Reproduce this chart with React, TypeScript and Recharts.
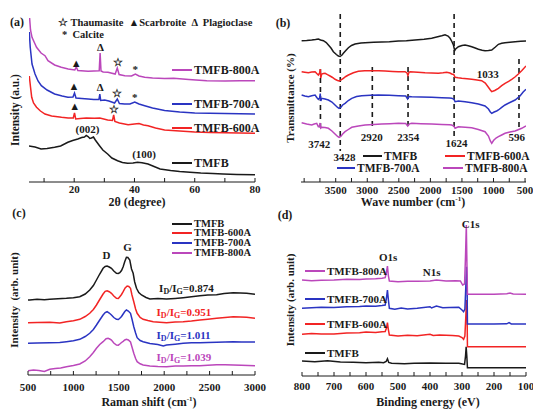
import React from 'react';
import { LineChart, Line, XAxis, YAxis, ReferenceLine, ReferenceDot } from 'recharts';

const FONT = '"Liberation Serif", "Times New Roman", serif';
const INK = '#1a1a1a';
const RED = '#f22424';
const BLUE = '#2a34c2';
const PURPLE = '#bb47bb';

type Pt = [number, number];

// (a) XRD, 2theta vs intensity (a.u.)
const xrdTmfb: Pt[] = [[5, 36], [7, 35], [9, 33], [11, 33.5], [13.5, 34.7], [15.5, 36], [17.9, 39.7], [19.5, 41.5], [21.2, 43], [22.5, 44.5], [23.4, 45], [24, 46.5], [24.6, 45.5], [25.2, 43.5], [25.7, 44], [26.4, 45], [27, 42], [28.4, 36.3], [29.5, 32], [31.1, 28], [32.5, 24], [34.4, 21.3], [36, 19.5], [37.7, 18.7], [39.5, 19], [41, 19.7], [42.5, 19.3], [44.5, 18], [46.5, 15.5], [48.5, 13], [52, 11.5], [55, 10.5], [58.4, 9.7], [62, 9], [66, 8.5], [69.4, 8], [74, 7.6], [80, 7.3]];
const xrd600: Pt[] = [[5.1, 106], [5.5, 95], [5.9, 84.7], [6.5, 79], [7.5, 74.7], [8.8, 71], [10.3, 68], [12.5, 66], [15.8, 64.7], [18, 64], [19.7, 64], [20.1, 69], [20.5, 63], [22, 63.5], [24, 64], [26.7, 63.7], [28.5, 64], [31.1, 62], [32.7, 61.5], [33.1, 67], [33.5, 60.5], [35, 59], [37.9, 57.3], [40, 58], [41.5, 58.5], [43, 57], [44.5, 56.3], [47, 54], [50, 52], [55, 51], [60, 50], [65, 49.5], [70, 49.2], [75, 49], [80, 48.7]];
const xrd700: Pt[] = [[5.1, 150], [5.4, 135], [6, 118], [7, 108], [8, 101], [9.1, 96.3], [11, 92], [13.5, 88], [16, 86], [17.9, 84.7], [19.6, 85], [20.1, 89], [20.6, 84], [22.5, 83.5], [24.6, 83], [26.5, 82.5], [28.2, 82.5], [28.5, 88], [28.8, 81.5], [30.1, 82], [31.5, 81], [33.4, 79], [34.3, 83], [35, 78.5], [36.7, 78], [38.5, 78], [40.1, 80], [41.5, 78], [43.4, 76.3], [46, 74], [50, 71.5], [55, 70], [60, 69], [65, 68.7], [70, 68.5], [75, 68.2], [80, 68]];
const xrd800: Pt[] = [[5.2, 164], [5.5, 152], [6, 144.7], [7, 138], [7.5, 134.7], [9, 129], [10.3, 126.3], [11.3, 121.3], [13.5, 117], [15.7, 114.7], [18, 113], [20.2, 112], [20.7, 115], [21.2, 111.5], [24.6, 110.7], [28.3, 111.3], [28.6, 129], [28.9, 111], [29.6, 110], [31.2, 109.7], [33.6, 108], [34.3, 114], [34.9, 107.5], [36.8, 106.3], [39, 106], [40.3, 108], [41.5, 106], [43.4, 104.7], [46, 104], [50, 103.5], [53, 103.7], [58, 102.5], [64, 101.3], [70, 101], [75, 101.2], [80, 101.3]];
const xrdTicks = [10, 20, 30, 40, 50, 60, 70, 80];
const xrdMajor = [20, 40, 60, 80];
const xrdMarks: [number, number, string, string][] = [
  [20.7, 119, '▲', INK], [28.7, 135, 'Δ', INK], [34.4, 120, '☆', INK], [40.3, 113, '*', INK],
  [19.9, 96, '▲', INK], [28.6, 95, 'Δ', INK], [34.3, 89, '☆', INK], [40.1, 85, '*', INK],
  [20.2, 76, '▲', INK], [33.2, 73, '☆', INK],
  [24.4, 52.7, '(002)', INK], [43.2, 28, '(100)', INK],
];

// (b) FTIR, wave number vs transmittance
const irTmfb: Pt[] = [[4040, 141.3], [3960, 141.5], [3880, 142], [3820, 142.5], [3775, 143], [3740, 142], [3695, 141.3], [3650, 139.5], [3616, 137], [3575, 134], [3537, 130.3], [3490, 127.5], [3458, 126], [3431, 125.5], [3400, 127], [3379, 128.7], [3340, 131.5], [3299, 134.3], [3250, 136.5], [3194, 138], [3100, 139], [3035, 139.3], [2900, 139.7], [2771, 140], [2650, 140.3], [2507, 141], [2380, 141.3], [2244, 142], [2100, 142.8], [1979, 143.7], [1900, 145], [1820, 146.3], [1768, 147.3], [1720, 146], [1688, 143.7], [1660, 140.5], [1635, 137], [1615, 131.5], [1600, 133], [1556, 135.3], [1500, 136.5], [1451, 137], [1400, 136.3], [1345, 135.3], [1290, 134], [1239, 132.7], [1180, 131.7], [1134, 131.3], [1080, 131.5], [1028, 132], [970, 135], [922, 137.7], [870, 138.7], [817, 139.3], [740, 139.8], [658, 140.3], [570, 140.7], [485, 141]];
const ir600: Pt[] = [[4040, 110.3], [3990, 109.8], [3933, 109.3], [3880, 110], [3827, 110.3], [3800, 108.5], [3775, 107], [3755, 109], [3745, 113], [3737, 104], [3722, 108], [3695, 108.5], [3669, 108.7], [3630, 107.3], [3590, 106], [3550, 104.5], [3511, 102.7], [3470, 101.5], [3447, 101], [3420, 101.8], [3379, 103.7], [3340, 105.5], [3299, 107], [3220, 109.3], [3141, 110.7], [3040, 111.2], [2930, 111.3], [2820, 111.2], [2718, 111], [2600, 110.6], [2507, 110.3], [2401, 110.3], [2370, 109], [2356, 106.5], [2340, 109.5], [2322, 110.3], [2200, 109.8], [2084, 109.3], [1980, 109], [1873, 108.7], [1800, 109.2], [1741, 109.7], [1690, 109], [1662, 108], [1630, 107.5], [1609, 104.7], [1560, 104.2], [1503, 103.7], [1420, 103.2], [1345, 102.7], [1260, 102], [1187, 101.3], [1130, 99], [1081, 94.7], [1050, 92], [1028, 90.3], [980, 91.5], [922, 93.7], [870, 96.3], [817, 98.7], [760, 100.7], [711, 102.7], [660, 105], [606, 108], [550, 111.5], [485, 116]];
const ir700: Pt[] = [[4040, 87], [3990, 86], [3933, 85.3], [3880, 86.3], [3827, 87], [3800, 84.5], [3775, 82.7], [3755, 84], [3745, 88.5], [3737, 81], [3722, 83.7], [3670, 83], [3616, 82], [3560, 80], [3511, 77], [3470, 74.5], [3447, 73.7], [3420, 74.5], [3390, 77], [3352, 78.7], [3300, 81.5], [3246, 83.7], [3170, 85.5], [3088, 86.3], [2950, 86.8], [2824, 87], [2650, 86.8], [2507, 86.3], [2390, 86], [2360, 83], [2340, 85.5], [2296, 85.3], [2150, 85], [1979, 84.7], [1820, 84.3], [1700, 84], [1662, 83.7], [1630, 83], [1609, 80.3], [1556, 81], [1450, 80.3], [1345, 79.3], [1240, 78], [1134, 76], [1080, 73], [1050, 70], [1028, 68.7], [990, 70], [950, 71], [922, 72], [870, 74.7], [817, 77], [740, 79.5], [658, 82], [580, 86], [530, 90], [485, 92.7]];
const ir800: Pt[] = [[4040, 59.3], [3960, 58], [3880, 57], [3840, 58], [3801, 58.7], [3775, 55.3], [3755, 56], [3745, 59], [3737, 54], [3722, 54.7], [3670, 54.5], [3616, 53.7], [3560, 51], [3511, 48], [3470, 45.5], [3447, 44.7], [3420, 45.5], [3390, 48], [3352, 50.3], [3300, 52.5], [3246, 54.7], [3140, 56], [3035, 57], [2900, 57.5], [2771, 58], [2640, 58.3], [2507, 58.7], [2390, 58.5], [2359, 56], [2330, 58.2], [2296, 58.7], [2150, 58.3], [1979, 58], [1820, 57.5], [1700, 57.2], [1662, 57], [1630, 56], [1609, 53.7], [1556, 55.3], [1450, 54.8], [1345, 54.3], [1240, 52.5], [1134, 50.3], [1080, 46], [1050, 41], [1028, 38.7], [1000, 41.5], [960, 44], [922, 45.3], [870, 47], [817, 48.7], [740, 50], [658, 51], [600, 52.5], [553, 53.7], [485, 56]];
const irTicks = [4000, 3750, 3500, 3250, 3000, 2750, 2500, 2250, 2000, 1750, 1500, 1250, 1000, 750, 500];
const irMajor = [3500, 3000, 2500, 2000, 1500, 1000, 500];
// band position, dashed line from / to
const irBands: [number, number, number][] = [[3742, 113, 50], [3428, 168, 31], [2920, 115, 53], [2354, 115, 53], [1624, 168, 46], [596, 123, 51]];
const irLabels: [number, number, string][] = [[3760, 38, '3742'], [3360, 25, '3428'], [2930, 45, '2920'], [2350, 45, '2354'], [1585, 39, '1624'], [632, 45, '596'], [1090, 108, '1033']];

// (c) Raman
const ramanTmfb: Pt[] = [[500, 75], [520, 75], [600, 75.8], [680, 75.2], [740, 75.7], [830, 76.2], [923, 76.7], [1000, 77.3], [1070, 78.3], [1130, 81], [1180, 85], [1220, 89.5], [1254, 95], [1290, 101], [1327, 106.7], [1350, 108.5], [1371, 109], [1395, 108], [1419, 106.7], [1445, 104], [1474, 101.7], [1495, 101.5], [1511, 102.3], [1530, 104.5], [1548, 108.3], [1566, 113.5], [1584, 117.7], [1600, 117.5], [1621, 115], [1640, 106], [1658, 101.7], [1675, 93], [1695, 86.7], [1720, 82.5], [1750, 80], [1800, 77.5], [1842, 76], [1930, 76.5], [2026, 76], [2120, 76.6], [2209, 77.3], [2300, 78.2], [2393, 79.3], [2480, 80], [2577, 80.3], [2660, 81.5], [2761, 82.3], [2840, 82], [2908, 81.7], [3000, 80.7]];
const raman600: Pt[] = [[500, 52.3], [600, 52.5], [740, 52.7], [850, 52], [923, 53.3], [1000, 54.3], [1070, 55.7], [1130, 58.5], [1180, 61.7], [1220, 65.5], [1254, 70], [1290, 75.5], [1327, 81], [1350, 83.7], [1371, 84.3], [1395, 83.3], [1419, 81.7], [1445, 79], [1474, 76.7], [1495, 76.5], [1511, 78.3], [1530, 80.5], [1548, 83.3], [1570, 87], [1592, 89], [1610, 88.5], [1629, 86.7], [1645, 80], [1665, 73.3], [1685, 66], [1702, 61.7], [1735, 57.5], [1768, 55.7], [1820, 54.5], [1879, 53.3], [1950, 52.8], [2026, 52.3], [2120, 53], [2209, 53.3], [2300, 54], [2393, 55], [2480, 55.8], [2577, 56.7], [2670, 57.5], [2761, 58.3], [2840, 58], [2908, 57.7], [3000, 56.7]];
const raman700: Pt[] = [[500, 31.7], [600, 32], [740, 32.3], [850, 32.5], [923, 33.3], [1000, 34.3], [1070, 35.7], [1130, 38.5], [1180, 41.7], [1220, 45.5], [1254, 50], [1290, 55], [1327, 60], [1350, 62.5], [1371, 63.3], [1395, 62], [1419, 60], [1445, 57.5], [1474, 55.7], [1495, 55.5], [1511, 56.7], [1530, 58.5], [1548, 61], [1566, 63.5], [1584, 65], [1605, 64], [1629, 61.7], [1645, 56], [1665, 48.3], [1685, 42], [1702, 37.3], [1735, 34.5], [1768, 33.3], [1842, 31.5], [1930, 30.5], [1990, 29], [2026, 30], [2120, 30.8], [2209, 31.7], [2300, 32.3], [2393, 32.3], [2480, 32.5], [2577, 32.7], [2670, 33], [2761, 33.3], [2850, 33], [3000, 33]];
const raman800: Pt[] = [[500, 4.3], [560, 5], [620, 4.5], [680, 3.5], [740, 5.7], [800, 6.5], [860, 7], [923, 8.3], [1000, 9.5], [1070, 11], [1130, 14], [1180, 18.3], [1220, 22.5], [1254, 26.7], [1290, 30.5], [1327, 33.3], [1360, 36.2], [1382, 36.7], [1400, 36], [1419, 35], [1445, 32], [1474, 30], [1495, 29.8], [1511, 31], [1530, 32.5], [1548, 33.7], [1566, 35], [1584, 35.7], [1605, 35], [1629, 33], [1645, 28], [1665, 21.7], [1685, 16.5], [1702, 13.3], [1735, 11.2], [1768, 10], [1842, 9], [1930, 8.5], [2026, 8.3], [2120, 9], [2209, 9], [2300, 9.3], [2393, 9.3], [2480, 9.7], [2577, 10.3], [2670, 10.3], [2761, 10], [2850, 9.7], [3000, 9.3]];
const ramanTicks = [500, 750, 1000, 1250, 1500, 1750, 2000, 2250, 2500, 2750, 3000];
const ramanMajor = [500, 1000, 1500, 2000, 2500, 3000];
const ratioLabels: [number, number, string, string][] = [[1944, 86.7, '0.874', INK], [1916, 63.3, '0.951', RED], [1916, 40, '1.011', BLUE], [1916, 18.3, '1.039', PURPLE]];

// (d) XPS survey
const xpsTmfb: Pt[] = [[800, 15], [760, 14.3], [720, 15.3], [680, 14], [640, 13.7], [600, 13.3], [560, 13.7], [545, 13.3], [537, 14.5], [533, 17.3], [529, 13.5], [520, 12.7], [480, 12.3], [450, 12.7], [400, 13], [350, 12.7], [310, 12.7], [298, 12], [292, 11.7], [289, 20], [287, 29.3], [285, 20], [283, 8.3], [250, 8.3], [200, 8.3], [150, 8.3], [100, 8.3]];
const xps600: Pt[] = [[800, 41.7], [770, 42.5], [740, 42], [700, 42], [660, 43], [620, 43.3], [600, 44], [570, 43.5], [550, 44.3], [540, 44.5], [536, 48], [533, 53.3], [530, 46], [527, 41], [500, 40], [470, 40.7], [440, 40.3], [400, 41.7], [390, 40.5], [370, 41], [350, 40.7], [330, 40.5], [310, 40], [300, 38.5], [295, 36.7], [291, 40], [288, 60], [286, 76], [284, 60], [283, 29.3], [250, 29.3], [200, 29.3], [150, 29.3], [100, 29.3]];
const xps700: Pt[] = [[800, 67.7], [770, 68.3], [740, 68.7], [700, 68.5], [660, 69.3], [620, 69.5], [600, 70], [570, 69.7], [550, 70.5], [540, 71], [536, 78], [533, 86], [530, 76], [527, 67.7], [510, 66.7], [490, 68], [470, 67], [440, 67.7], [400, 69.3], [395, 68], [380, 70], [360, 68.3], [340, 68.5], [310, 68.7], [300, 66], [295, 64.3], [291, 67], [288, 90], [286, 109.3], [284, 90], [283, 52], [200, 52], [160, 52.2], [153, 53.3], [146, 52], [100, 52]];
const xps800: Pt[] = [[800, 96], [770, 95.3], [740, 95.7], [700, 96], [660, 96.7], [620, 96.5], [600, 97], [570, 97.3], [550, 97.7], [540, 98.3], [536, 104], [533, 110], [530, 100], [527, 95], [500, 94.3], [470, 94.7], [440, 94.7], [400, 95], [380, 96], [350, 95], [320, 95.3], [305, 95], [298, 91], [292, 92], [289, 120], [286.5, 151], [285, 120], [283, 81.7], [200, 81.7], [160, 82.2], [150, 83], [140, 82], [100, 81.7]];
const xpsTicks = [800, 750, 700, 650, 600, 550, 500, 450, 400, 350, 300, 250, 200, 150, 100];
const xpsMajor = [800, 700, 600, 500, 400, 300, 200, 100];
const xpsLabels: [number, number, string][] = [[531, 118.7, 'O1s'], [395, 104.3, 'N1s'], [273, 151.7, 'C1s']];

type Series = { color: string; pts: Pt[] };
type Note = { x: number; y: number; text: React.ReactNode; color?: string; anchor?: 'start' | 'middle' | 'end' };

const rows = (pts: Pt[]) => pts.map(([x, y]) => ({ x, y }));

const PAD = 18;
const TOP = 4;
const AXIS_H = 28;

function Panel(props: {
  box: [number, number, number, number];
  xDomain: [number, number];
  reversed?: boolean;
  ticks: number[];
  major: number[];
  yMax: number;
  gap: number;
  series: Series[];
  notes?: Note[];
  dashes?: [number, number, number][];
}) {
  const { box, xDomain, reversed, ticks, major, yMax, gap, series, notes = [], dashes = [] } = props;
  const [l, t, r, b] = box;
  return (
    <div style={{ position: 'absolute', left: l - PAD, top: t - TOP }}>
      <LineChart width={r - l + 2 * PAD} height={b - t + TOP + AXIS_H} margin={{ top: TOP, right: PAD, bottom: 0, left: PAD }}>
        <XAxis
          dataKey="x" type="number" domain={xDomain} reversed={reversed} ticks={ticks} interval={0}
          allowDataOverflow height={AXIS_H} tickSize={-4} tickMargin={gap} stroke={INK}
          tickFormatter={(v: number) => (major.includes(v) ? String(v) : '')}
          tick={{ fill: INK, fontSize: 11, fontWeight: 700, fontFamily: FONT }}
        />
        <XAxis xAxisId="top" orientation="top" type="number" domain={xDomain} reversed={reversed} height={0} tick={false} tickLine={false} stroke={INK} />
        <YAxis type="number" domain={[0, yMax]} width={0} tick={false} tickLine={false} stroke={INK} allowDataOverflow />
        <YAxis yAxisId="right" orientation="right" type="number" domain={[0, yMax]} width={0} tick={false} tickLine={false} stroke={INK} />
        {dashes.map(([x, y1, y2], i) => (
          <ReferenceLine key={'d' + i} segment={[{ x, y: y1 }, { x, y: y2 }]} stroke={INK} strokeWidth={1.6} strokeDasharray="5 4" />
        ))}
        {series.map((s, i) => (
          <Line key={i} data={rows(s.pts)} dataKey="y" type="linear" stroke={s.color} strokeWidth={1.5} dot={false} activeDot={false} isAnimationActive={false} />
        ))}
        {notes.map((n, i) => (
          <ReferenceDot
            key={'n' + i} x={n.x} y={n.y} r={0}
            shape={(p: any) => (
              <text x={p.cx} y={p.cy} textAnchor={n.anchor ?? 'middle'} dominantBaseline="central" fill={n.color ?? INK} fontSize={11} fontWeight={700} fontFamily={FONT}>
                {n.text}
              </text>
            )}
          />
        ))}
      </LineChart>
    </div>
  );
}

function Txt(props: { x: number; y: number; children: React.ReactNode; align?: 'left' | 'center'; rotate?: boolean; size?: number }) {
  const { x, y, children, align = 'center', rotate = false, size = 12 } = props;
  const transform = rotate ? 'translate(-50%,-50%) rotate(-90deg)' : align === 'left' ? 'translate(0,-50%)' : 'translate(-50%,-50%)';
  return (
    <div style={{ position: 'absolute', left: x, top: y, transform, whiteSpace: 'pre', fontSize: size, fontWeight: 700, fontFamily: FONT, color: INK, lineHeight: 0.75 }}>
      {children}
    </div>
  );
}

function Key(props: { x1: number; x2: number; y: number; color: string; label: string; size?: number }) {
  const { x1, x2, y, color, label, size = 12 } = props;
  return (
    <>
      <div style={{ position: 'absolute', left: x1, top: y - 1, width: x2 - x1, height: 2, background: color }} />
      <Txt x={x2 + 2} y={y} align="left" size={size}>{label}</Txt>
    </>
  );
}

const ratio = (v: string) => (
  <>
    <tspan>I</tspan>
    <tspan dy={3} fontSize={8}>D</tspan>
    <tspan dy={-3}>/I</tspan>
    <tspan dy={3} fontSize={8}>G</tspan>
    <tspan dy={-3}>{'=' + v}</tspan>
  </>
);

export default function App() {
  return (
    <div style={{ position: 'absolute', left: 0, top: 0, width: 533, height: 411, background: '#fff', fontFamily: FONT, overflow: 'hidden' }}>
      {/* (a) XRD */}
      <Panel
        box={[29, 14, 255, 182]} xDomain={[5, 80]} ticks={xrdTicks} major={xrdMajor} yMax={168} gap={7}
        series={[{ color: INK, pts: xrdTmfb }, { color: RED, pts: xrd600 }, { color: BLUE, pts: xrd700 }, { color: PURPLE, pts: xrd800 }]}
        notes={xrdMarks.map(([x, y, text, color]) => ({ x, y, text, color }))}
      />
      <Txt x={17} y={22}>(a)</Txt>
      <Txt x={58} y={23} align="left" size={10.5}>{'☆ Thaumasite  ▲Scarbroite  Δ  Plagioclase'}</Txt>
      <Txt x={62} y={35} align="left" size={10.5}>{'*  Calcite'}</Txt>
      <Key x1={172} x2={192} y={70} color={PURPLE} label="TMFB-800A" />
      <Key x1={172} x2={192} y={104} color={BLUE} label="TMFB-700A" />
      <Key x1={172} x2={192} y={127.5} color={RED} label="TMFB-600A" />
      <Key x1={172} x2={192} y={163} color={INK} label="TMFB" />
      <Txt x={15} y={110} rotate size={11.5}>Intensity (a.u.)</Txt>
      <Txt x={137} y={202}>2θ (degree)</Txt>

      {/* (b) FTIR */}
      <Panel
        box={[301, 14, 526, 182]} xDomain={[485, 4050]} reversed ticks={irTicks} major={irMajor} yMax={168} gap={8}
        series={[{ color: INK, pts: irTmfb }, { color: RED, pts: ir600 }, { color: BLUE, pts: ir700 }, { color: PURPLE, pts: ir800 }]}
        dashes={irBands}
        notes={irLabels.map(([x, y, text]) => ({ x, y, text }))}
      />
      <Txt x={283} y={23}>(b)</Txt>
      <Key x1={363} x2={382} y={156} color={INK} label="TMFB" size={11.5} />
      <Key x1={445} x2={465} y={156} color={RED} label="TMFB-600A" size={11.5} />
      <Key x1={337} x2={355} y={168} color={BLUE} label="TMFB-700A" size={11.5} />
      <Key x1={443} x2={463} y={168} color={PURPLE} label="TMFB-800A" size={11.5} />
      <Txt x={290} y={98} rotate size={11}>Transmittance (%)</Txt>
      <Txt x={413} y={202}>
        Wave number (cm<sup style={{ fontSize: 7 }}>-1</sup>)
      </Txt>

      {/* (c) Raman */}
      <Panel
        box={[28, 214, 255, 375]} xDomain={[500, 3000]} ticks={ramanTicks} major={ramanMajor} yMax={161} gap={12}
        series={[{ color: INK, pts: ramanTmfb }, { color: RED, pts: raman600 }, { color: BLUE, pts: raman700 }, { color: PURPLE, pts: raman800 }]}
        notes={[
          { x: 1364, y: 120, text: 'D' },
          { x: 1596, y: 128.3, text: 'G' },
          ...ratioLabels.map(([x, y, v, color]) => ({ x, y, text: ratio(v), color, anchor: 'start' as const })),
        ]}
      />
      <Txt x={19} y={213}>(c)</Txt>
      <Key x1={172} x2={192} y={223.5} color={INK} label="TMFB" size={10.5} />
      <Key x1={172} x2={192} y={233.3} color={RED} label="TMFB-600A" size={10.5} />
      <Key x1={172} x2={192} y={243.1} color={BLUE} label="TMFB-700A" size={10.5} />
      <Key x1={172} x2={192} y={252.9} color={PURPLE} label="TMFB-800A" size={10.5} />
      <Txt x={14} y={300} rotate size={11}>Intensity  (arb. unit)</Txt>
      <Txt x={149} y={402}>
        Raman shift (cm<sup style={{ fontSize: 7 }}>-1</sup>)
      </Txt>

      {/* (d) XPS */}
      <Panel
        box={[302, 214, 526, 376]} xDomain={[100, 800]} reversed ticks={xpsTicks} major={xpsMajor} yMax={162} gap={10}
        series={[{ color: INK, pts: xpsTmfb }, { color: RED, pts: xps600 }, { color: BLUE, pts: xps700 }, { color: PURPLE, pts: xps800 }]}
        notes={xpsLabels.map(([x, y, text]) => ({ x, y, text }))}
      />
      <Txt x={285} y={215}>(d)</Txt>
      <Key x1={305} x2={325} y={270.7} color={PURPLE} label="TMFB-800A" size={11} />
      <Key x1={305} x2={325} y={299.3} color={BLUE} label="TMFB-700A" size={11} />
      <Key x1={305} x2={325} y={324} color={RED} label="TMFB-600A" size={11} />
      <Key x1={305} x2={325} y={352.7} color={INK} label="TMFB" size={11} />
      <Txt x={290} y={300} rotate size={11}>Intensity (arb. unit)</Txt>
      <Txt x={428} y={402}>Binding energy (eV)</Txt>
    </div>
  );
}
